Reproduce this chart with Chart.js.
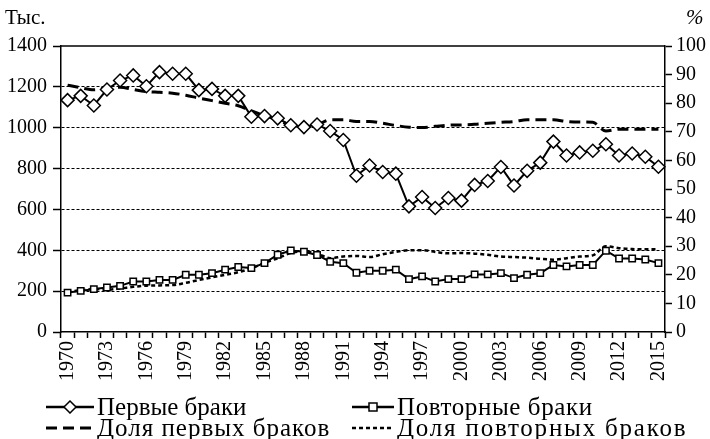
<!DOCTYPE html>
<html>
<head>
<meta charset="utf-8">
<script src="https://cdn.jsdelivr.net/npm/chart.js@4.4.1/dist/chart.umd.min.js"></script>
<style>
  body { margin: 0; background: #fff; }
  #wrap { position: relative; width: 710px; height: 439px; font-family: 'Liberation Serif', serif; color: #000; }
  #chart { position: absolute; left: 0; top: 0; }
  .unit { position: absolute; font-size: 21px; line-height: 21px; }
  .leg { position: absolute; font-size: 25px; line-height: 24px; white-space: nowrap; }
  .leg svg { position: absolute; top: 5px; }
  .leg span { position: absolute; }
</style>
</head>
<body>
<div id="wrap">
  <canvas id="chart" width="710" height="439"></canvas>
  <div class="unit" style="left:5px; top:7px;">Тыс.</div>
  <div class="unit" style="left:686px; top:7px; font-style:italic;">%</div>

  <div class="leg" style="left:46px; top:395px;">
    <svg width="48" height="14"><line x1="0" y1="7" x2="48" y2="7" stroke="#000" stroke-width="2.5"/><path d="M24 1 L30 7 L24 13 L18 7 Z" fill="#fff" stroke="#000" stroke-width="1.5"/></svg>
    <span style="left:51px;">Первые браки</span>
  </div>
  <div class="leg" style="left:352px; top:395px;">
    <svg width="42" height="14"><line x1="0" y1="7" x2="42" y2="7" stroke="#000" stroke-width="2.5"/><rect x="17" y="3" width="8" height="8" fill="#fff" stroke="#000" stroke-width="1.5"/></svg>
    <span style="left:45px; letter-spacing:0.6px;">Повторные браки</span>
  </div>
  <div class="leg" style="left:46px; top:416px;">
    <svg width="48" height="14"><line x1="0" y1="7" x2="48" y2="7" stroke="#000" stroke-width="3" stroke-dasharray="11 6"/></svg>
    <span style="left:51px; letter-spacing:1px;">Доля первых браков</span>
  </div>
  <div class="leg" style="left:352px; top:416px;">
    <svg width="42" height="14"><line x1="0" y1="7" x2="42" y2="7" stroke="#000" stroke-width="2.5" stroke-dasharray="4 3"/></svg>
    <span style="left:45px; letter-spacing:1.8px;">Доля повторных браков</span>
  </div>
</div>

<script>
const years = ['1970','1971','1972','1973','1974','1975','1976','1977','1978','1979',
  '1980','1981','1982','1983','1984','1985','1986','1987','1988','1989',
  '1990','1991','1992','1993','1994','1995','1996','1997','1998','1999',
  '2000','2001','2002','2003','2004','2005','2006','2007','2008','2009',
  '2010','2011','2012','2013','2014','2015'];

// thousands
const firstMarriages = [1135, 1156, 1109, 1187, 1231, 1256, 1203, 1272, 1264, 1264,
  1184, 1190, 1156, 1156, 1054, 1057, 1046, 1012, 1003, 1016,
  984, 940, 765, 815, 783, 775, 615, 661, 607, 656,
  643, 720, 739, 808, 717, 789, 829, 932, 864, 879,
  887, 919, 864, 874, 858, 809];

const repeatMarriages = [193, 201, 210, 218, 226, 247, 247, 255, 255, 280,
  280, 288, 305, 318, 313, 337, 378, 399, 393, 377,
  344, 337, 290, 300, 300, 305, 259, 272, 247, 259,
  259, 282, 282, 288, 264, 280, 288, 328, 321, 328,
  328, 398, 360, 360, 355, 337];

// percent
const shareFirst = [86.3, 85.4, 84.7, 85.4, 85.6, 84.8, 84.1, 83.8, 83.5, 82.8,
  81.8, 80.9, 80.0, 79.1, 77.3, 75.6, 74.2, 72.2, 71.6, 72.4,
  74.2, 74.2, 73.6, 73.6, 73.0, 72.2, 71.6, 71.5, 71.9, 72.3,
  72.4, 72.6, 73.0, 73.3, 73.6, 74.2, 74.2, 74.2, 73.6, 73.4,
  73.3, 70.3, 70.9, 70.9, 70.9, 70.9];

const shareRepeat = [14.0, 14.6, 15.0, 14.8, 15.2, 15.8, 16.2, 16.3, 16.4, 17.2,
  18.2, 19.1, 20.0, 20.9, 22.3, 24.2, 25.8, 27.6, 28.2, 27.4,
  25.8, 26.4, 26.6, 26.2, 27.2, 28.0, 28.6, 28.6, 28.0, 27.5,
  27.6, 27.4, 27.0, 26.4, 26.2, 26.0, 25.6, 25.3, 25.8, 26.4,
  26.8, 30.0, 29.3, 29.0, 28.9, 29.0];

const tickFont = { family: "'Liberation Serif', serif", size: 20 };

// solid frame line along the top of the plot
const topLine = {
  id: 'topLine',
  beforeDatasetsDraw(chart) {
    const { ctx, chartArea: a } = chart;
    ctx.save();
    ctx.strokeStyle = '#000';
    ctx.lineWidth = 1.5;
    ctx.beginPath();
    ctx.moveTo(a.left, a.top);
    ctx.lineTo(a.right, a.top);
    ctx.stroke();
    ctx.restore();
  }
};

new Chart(document.getElementById('chart'), {
  type: 'line',
  data: {
    labels: years,
    datasets: [
      {
        label: 'Первые браки',
        data: firstMarriages,
        yAxisID: 'y',
        borderColor: '#000',
        borderWidth: 2,
        pointStyle: 'rectRot',
        pointRadius: 6.5,
        pointBackgroundColor: '#fff',
        pointBorderColor: '#000',
        pointBorderWidth: 1.5,
        tension: 0
      },
      {
        label: 'Повторные браки',
        data: repeatMarriages,
        yAxisID: 'y',
        borderColor: '#000',
        borderWidth: 2,
        pointStyle: 'rect',
        pointRadius: 4.5,
        pointBackgroundColor: '#fff',
        pointBorderColor: '#000',
        pointBorderWidth: 1.5,
        tension: 0
      },
      {
        label: 'Доля первых браков',
        data: shareFirst,
        yAxisID: 'y1',
        borderColor: '#000',
        borderWidth: 3,
        borderDash: [11, 6],
        pointRadius: 0,
        cubicInterpolationMode: 'monotone'
      },
      {
        label: 'Доля повторных браков',
        data: shareRepeat,
        yAxisID: 'y1',
        borderColor: '#000',
        borderWidth: 2.5,
        borderDash: [4, 3],
        pointRadius: 0,
        cubicInterpolationMode: 'monotone'
      }
    ]
  },
  options: {
    responsive: false,
    animation: false,
    layout: { padding: { top: 46, bottom: 47, left: 0, right: 0 } },
    plugins: { legend: { display: false }, tooltip: { enabled: false } },
    scales: {
      x: {
        offset: true,
        afterFit: (s) => { s.height = 60; },
        grid: { offset: true, drawOnChartArea: false, drawTicks: true, tickLength: 6, tickColor: '#000', tickWidth: 1.5 },
        border: { color: '#000', width: 1.5 },
        ticks: {
          autoSkip: false,
          maxRotation: 90,
          minRotation: 90,
          padding: 3,
          color: '#000',
          font: tickFont,
          callback: function (v, i) { return i % 3 === 0 ? this.getLabelForValue(v) : ''; }
        }
      },
      y: {
        position: 'left',
        min: 0,
        max: 1400,
        afterFit: (s) => { s.width = 61; },
        grid: {
          color: (c) => (c.tick && (c.tick.value === 0 || c.tick.value === 1400)) ? 'rgba(0,0,0,0)' : '#000',
          lineWidth: 1,
          tickColor: '#000',
          tickWidth: 1.5,
          tickLength: 8
        },
        border: { color: '#000', width: 1.5, dash: [3, 2] },
        ticks: { stepSize: 200, padding: 6, color: '#000', font: tickFont, callback: (v) => String(v) }
      },
      y1: {
        position: 'right',
        min: 0,
        max: 100,
        afterFit: (s) => { s.width = 45; },
        grid: { drawOnChartArea: false, tickColor: '#000', tickWidth: 1.5, tickLength: 7 },
        border: { color: '#000', width: 1.5 },
        ticks: { stepSize: 10, padding: 4, color: '#000', font: tickFont }
      }
    }
  },
  plugins: [topLine]
});
</script>
</body>
</html>
